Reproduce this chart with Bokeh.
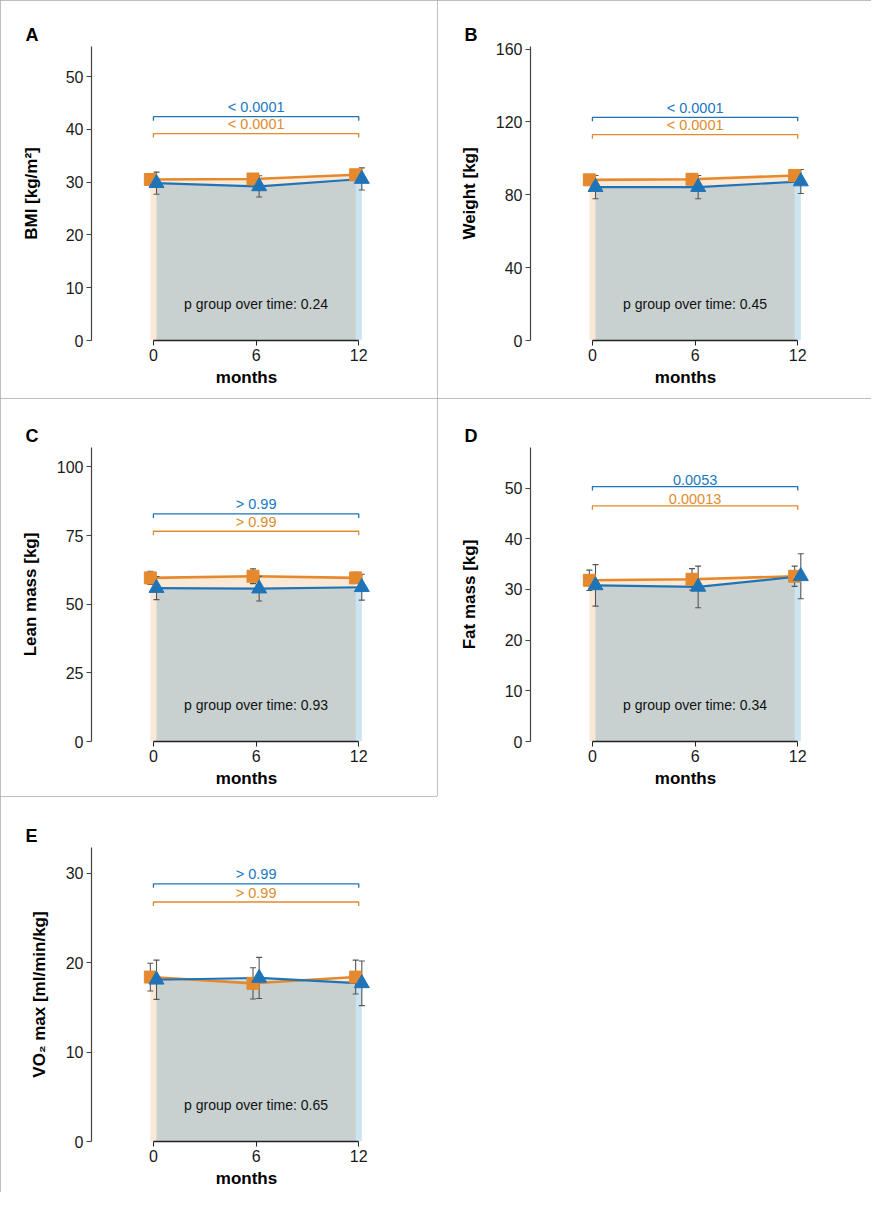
from bokeh.plotting import figure
from bokeh.layouts import gridplot
from bokeh.models import Label, FixedTicker
from bokeh.embed import file_html
from bokeh.resources import INLINE

# ---------------- data ----------------
months = [0, 6, 12]
panel_letters = ["A", "B", "C", "D", "E"]
y_titles = ["BMI [kg/m²]", "Weight [kg]", "Lean mass [kg]", "Fat mass [kg]", "VO₂ max [ml/min/kg]"]
y_ends = [55.7, 161.4, 107.1, 58.0, 32.9]
y_ticks = [[0, 10, 20, 30, 40, 50], [0, 40, 80, 120, 160], [0, 25, 50, 75, 100],
           [0, 10, 20, 30, 40, 50], [0, 10, 20, 30]]

orange_bmi = [30.5, 30.6, 31.4]
orange_bmi_sd = [0.9, 0.7, 1.0]
blue_bmi = [29.8, 29.2, 30.6]
blue_bmi_sd = [2.1, 2.0, 2.1]

orange_weight = [88.2, 88.5, 90.6]
orange_weight_sd = [2.5, 3.0, 2.7]
blue_weight = [84.2, 84.2, 87.3]
blue_weight_sd = [6.4, 6.4, 6.6]

orange_lean = [59.6, 60.2, 59.6]
orange_lean_sd = [2.4, 2.7, 2.0]
blue_lean = [55.9, 55.7, 56.2]
blue_lean_sd = [4.2, 4.5, 4.7]

orange_fat = [31.8, 32.0, 32.6]
orange_fat_sd = [2.0, 2.1, 2.0]
blue_fat = [30.8, 30.5, 32.6]
blue_fat_sd = [4.1, 4.1, 4.45]

orange_vo2 = [18.4, 17.7, 18.4]
orange_vo2_sd = [1.55, 1.75, 1.9]
blue_vo2 = [18.1, 18.3, 17.7]
blue_vo2_sd = [2.2, 2.3, 2.5]

orange_means = [orange_bmi, orange_weight, orange_lean, orange_fat, orange_vo2]
orange_sds = [orange_bmi_sd, orange_weight_sd, orange_lean_sd, orange_fat_sd, orange_vo2_sd]
blue_means = [blue_bmi, blue_weight, blue_lean, blue_fat, blue_vo2]
blue_sds = [blue_bmi_sd, blue_weight_sd, blue_lean_sd, blue_fat_sd, blue_vo2_sd]

blue_bracket_y = [42.4, 122.5, 82.9, 50.3, 28.84]
orange_bracket_y = [39.2, 113.0, 76.6, 46.5, 26.8]
blue_p = ["< 0.0001", "< 0.0001", "> 0.99", "0.0053", "> 0.99"]
orange_p = ["< 0.0001", "< 0.0001", "> 0.99", "0.00013", "> 0.99"]
p_group = ["0.24", "0.45", "0.93", "0.34", "0.65"]

# ---------------- style ----------------
ORANGE = "#E5892E"
BLUE = "#1F74B8"
ORANGE_FILL = "#E69138"
BLUE_FILL = "#0072B2"
ORANGE_TXT = "#E08C2C"
BLUE_TXT = "#1A78C2"
FONT = "Liberation Sans"
X_START, X_END = -3.62, 14.5
FW, FH = 310, 294
OFF = 0.18
col_w = [437, 434]
row_h = [398, 398, 396]
left_borders = [91, 93]
top_borders = [46, 49, 51]
title_standoffs = [22, 14, 14, 23, 14]


def make_panel(i):
    r, c = divmod(i, 2)
    W, H = col_w[c], row_h[r]
    lb, tb = left_borders[c], top_borders[r]
    p = figure(frame_width=FW, frame_height=FH,
               min_border_left=lb, min_border_right=W - lb - FW,
               min_border_top=tb, min_border_bottom=H - tb - FH,
               x_range=(X_START, X_END), y_range=(0, y_ends[i]),
               output_backend="svg", toolbar_location=None, tools="")
    p.outline_line_color = None
    p.grid.visible = False
    p.background_fill_color = "white"
    p.border_fill_color = "white"
    p.styles = {"outline": "1px solid #a9a9a9", "outline-offset": "-1px"}

    # panel letter as title
    p.title.text = panel_letters[i]
    p.title.align = "left"
    p.title.offset = -66
    p.title.standoff = 3
    p.title.text_font = FONT
    p.title.text_font_style = "bold"
    p.title.text_font_size = "18px"
    p.title.text_color = "black"

    pxx = FW / (X_END - X_START)
    pxy = FH / y_ends[i]

    # axes
    for ax in (p.xaxis[0], p.yaxis[0]):
        ax.major_tick_in = 0
        ax.major_tick_out = 5
        ax.minor_tick_line_color = None
        ax.major_label_text_font = FONT
        ax.major_label_text_font_size = "16px"
        ax.major_label_text_color = "#1a1a1a"
        ax.axis_label_text_font = FONT
        ax.axis_label_text_font_style = "bold"
        ax.axis_label_text_font_size = "17px"
        ax.axis_label_text_color = "black"
        ax.major_label_standoff = 3
    p.xaxis.ticker = FixedTicker(ticks=months)
    p.xaxis.bounds = (0, 12)
    p.xaxis.axis_label = "months"
    p.xaxis.axis_label_standoff = 4
    p.xaxis.axis_line_color = "#222222"
    p.xaxis.axis_line_width = 1.3
    p.xaxis.major_tick_line_color = "#222222"
    p.yaxis.ticker = FixedTicker(ticks=y_ticks[i])
    p.yaxis.axis_label = y_titles[i]
    p.yaxis.axis_label_standoff = title_standoffs[i]
    p.yaxis.axis_line_color = "#444444"
    p.yaxis.axis_line_width = 1.2
    p.yaxis.major_tick_line_color = "#444444"

    xo = [m - OFF for m in months]
    xb = [m + OFF for m in months]
    om, osd = orange_means[i], orange_sds[i]
    bm, bsd = blue_means[i], blue_sds[i]

    # filled areas
    p.varea(x=xo, y1=0, y2=om, fill_color=ORANGE_FILL, fill_alpha=0.2)
    p.varea(x=xb, y1=0, y2=bm, fill_color=BLUE_FILL, fill_alpha=0.2)

    # lines
    p.line(xo, om, line_color=ORANGE, line_width=2.6)
    p.line(xb, bm, line_color=BLUE, line_width=2.2)

    # error bars
    cw = 3 / pxx
    for xs, ms, sds in ((xo, om, osd), (xb, bm, bsd)):
        lo = [m - s for m, s in zip(ms, sds)]
        hi = [m + s for m, s in zip(ms, sds)]
        p.segment(x0=xs, y0=lo, x1=xs, y1=hi, line_color="#555555", line_width=1.1)
        p.segment(x0=[x - cw for x in xs], y0=hi, x1=[x + cw for x in xs], y1=hi,
                  line_color="#555555", line_width=1.1)
        p.segment(x0=[x - cw for x in xs], y0=lo, x1=[x + cw for x in xs], y1=lo,
                  line_color="#555555", line_width=1.1)

    # markers
    p.scatter(xo, om, marker="square", size=12, fill_color=ORANGE, line_color=ORANGE)
    p.scatter(xb, bm, marker="triangle", size=15, fill_color=BLUE, line_color=BLUE)

    # brackets
    cap = 4 / pxy
    for yb, txt, col, tcol in ((blue_bracket_y[i], blue_p[i], BLUE, BLUE_TXT),
                               (orange_bracket_y[i], orange_p[i], ORANGE, ORANGE_TXT)):
        p.line([0, 0, 12, 12], [yb - cap, yb, yb, yb - cap], line_color=col, line_width=1.3)
        p.add_layout(Label(x=6, y=yb + 1.5 / pxy, text=txt, text_align="center",
                           text_baseline="bottom", text_font=FONT, text_font_size="14.5px",
                           text_color=tcol))

    # p group text
    p.add_layout(Label(x=6, y=37 / pxy, text="p group over time: " + p_group[i],
                       text_align="center", text_baseline="middle", text_font=FONT,
                       text_font_size="14px", text_color="#111111"))
    return p


panels = [make_panel(i) for i in range(5)]
grid = gridplot([[panels[0], panels[1]], [panels[2], panels[3]], [panels[4], None]],
                toolbar_location=None)

open("out.html", "w").write(file_html(grid, INLINE))
